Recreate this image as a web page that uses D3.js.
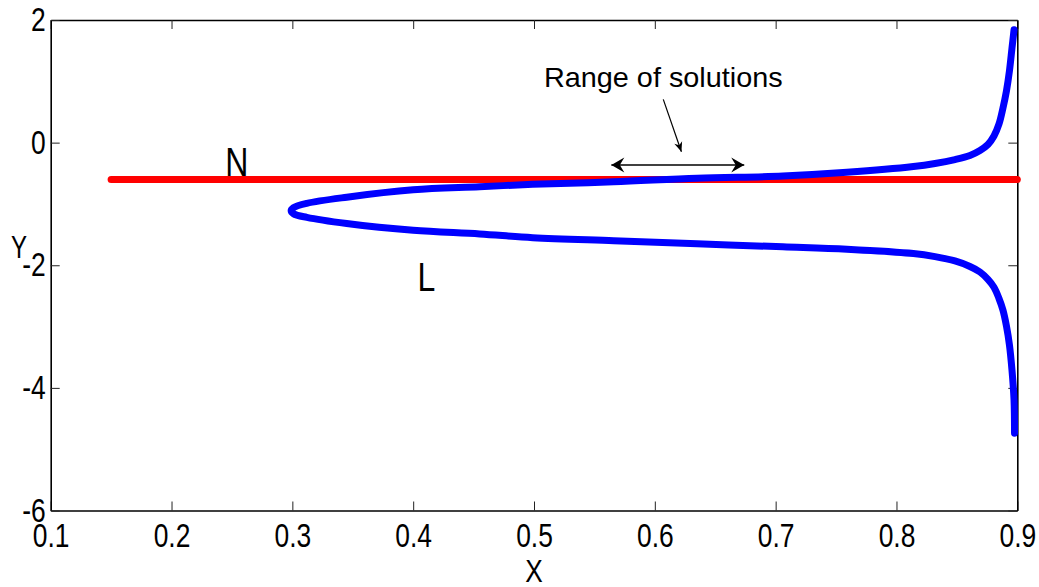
<!DOCTYPE html>
<html><head><meta charset="utf-8">
<script src="https://cdn.jsdelivr.net/npm/d3@7"></script>
<style>body{margin:0;background:#fff} svg{display:block}</style>
</head><body><svg id="chart" width="1039" height="587"></svg>
<script>
// ---- data ----
const xTicks = [0.1, 0.2, 0.3, 0.4, 0.5, 0.6, 0.7, 0.8, 0.9];
const yTicks = [2, 0, -2, -4, -6];
const xTickLabels = ["0.1","0.2","0.3","0.4","0.5","0.6","0.7","0.8","0.9"];
const yTickLabels = ["2","0","-2","-4","-6"];
// curve L (blue), traced from upper tip through the turning point to the lower tip
const curveLX = [0.8973,0.8956,0.8935,0.8910,0.8881,0.8848,0.8807,0.8757,0.8691,0.8608,0.8484,0.8319,0.814,0.759,0.706,0.635,0.566,0.499,0.455,0.400,0.345,0.312,0.301,0.299,
                 0.301,0.312,0.345,0.400,0.455,0.499,0.566,0.635,0.706,0.759,0.814,0.8319,0.8484,0.8608,0.8691,0.8757,0.8807,0.8848,0.8881,0.8910,0.8935,0.8956,0.8973,0.8977];
const curveLY = [1.84,1.54,1.17,0.84,0.56,0.30,0.108,-0.031,-0.129,-0.21,-0.276,-0.34,-0.39,-0.485,-0.545,-0.58,-0.64,-0.68,-0.72,-0.77,-0.89,-0.99,-1.06,-1.11,
                 -1.16,-1.22,-1.32,-1.43,-1.49,-1.55,-1.60,-1.65,-1.70,-1.74,-1.81,-1.86,-1.93,-2.02,-2.11,-2.23,-2.36,-2.54,-2.73,-2.99,-3.30,-3.71,-4.20,-4.74];
// line N (red)
const lineNX = [0.15, 0.9];
const lineNY = [-0.6, -0.6];
// annotations (data coordinates)
const labelN = {text: "N", x: 0.254, y: -0.545};
const labelL = {text: "L", x: 0.411, y: -2.42};
const rangeText = {text: "Range of solutions", x: 0.607, y: 0.905};
const rangeArrow = {x1: 0.564, x2: 0.674, y: -0.365};
const pointerArrow = {x1: 0.607, y1: 0.706, x2: 0.622, y2: -0.148};

// ---- layout ----
const W = 1039, H = 587;
const mLeft = 50.7, mRight = 1017.3, mTop = 20, mBottom = 510.5;
const svg = d3.select("#chart");
const x = d3.scaleLinear().domain([0.1, 0.9]).range([mLeft, mRight]);
const y = d3.scaleLinear().domain([-6, 2]).range([mBottom, mTop]);
const font = "'Liberation Sans', Arial, sans-serif";
const SX = 0.8; // horizontal squeeze of the figure's lettering

const defs = svg.append("defs");
defs.append("marker").attr("id","head").attr("viewBox","-14 -8 16 16")
  .attr("refX",0).attr("refY",0).attr("markerUnits","userSpaceOnUse")
  .attr("markerWidth",16).attr("markerHeight",16).attr("orient","auto-start-reverse")
  .append("path").attr("d","M0,0 L-13,-7.5 L-8.5,0 L-13,7.5 Z").attr("fill","#000");
defs.append("marker").attr("id","head2").attr("viewBox","-14 -8 16 16")
  .attr("refX",0).attr("refY",0).attr("markerUnits","userSpaceOnUse")
  .attr("markerWidth",12).attr("markerHeight",12).attr("orient","auto")
  .append("path").attr("d","M0,0 L-13,-5.5 L-9,0 L-13,5.5 Z").attr("fill","#000");

// axes
function styleAxis(g){
  g.select(".domain").attr("stroke","#000").attr("stroke-width",1.6);
  g.selectAll(".tick line").attr("stroke","#222").attr("stroke-width",1);
  g.attr("font-family", font).attr("font-size", 33);
  g.selectAll(".tick text").attr("fill","#000").attr("transform",`scale(${SX},1)`);
}
svg.append("g").attr("transform",`translate(0,${mBottom})`)
  .call(d3.axisBottom(x).tickValues(xTicks).tickFormat((d,i)=>xTickLabels[i]).tickSizeInner(-9).tickSizeOuter(0).tickPadding(13))
  .call(styleAxis);
svg.append("g").attr("transform",`translate(0,${mTop})`)
  .call(d3.axisTop(x).tickValues(xTicks).tickFormat("").tickSizeInner(-9).tickSizeOuter(0))
  .call(styleAxis);
svg.append("g").attr("transform",`translate(${mLeft},0)`)
  .call(d3.axisLeft(y).tickValues(yTicks).tickFormat((d,i)=>yTickLabels[i]).tickSizeInner(-9).tickSizeOuter(0).tickPadding(5))
  .call(styleAxis)
  .call(g => g.selectAll(".tick text").attr("x", -5 / SX));
svg.append("g").attr("transform",`translate(${mRight},0)`)
  .call(d3.axisRight(y).tickValues(yTicks).tickFormat("").tickSizeInner(-9).tickSizeOuter(0))
  .call(styleAxis);

function squeezedText(px, py, txt, size, sx){
  svg.append("text").attr("transform",`translate(${px},${py}) scale(${sx},1)`)
    .attr("text-anchor","middle").attr("font-family", font).attr("font-size", size)
    .attr("fill","#000").text(txt);
}
// axis titles
squeezedText(x(0.5), 582, "X", 32, 0.82);
squeezedText(19, 258, "Y", 32, 0.75);

// series
const lineN = d3.line().x(d=>x(d[0])).y(d=>y(d[1]));
svg.append("path").datum(lineNX.map((v,i)=>[v,lineNY[i]]))
  .attr("d", lineN).attr("fill","none").attr("stroke","#ff0000")
  .attr("stroke-width",7).attr("stroke-linecap","round");
const lineL = d3.line().x(d=>x(d[0])).y(d=>y(d[1])).curve(d3.curveCatmullRom.alpha(0.5));
svg.append("path").datum(curveLX.map((v,i)=>[v,curveLY[i]]))
  .attr("d", lineL).attr("fill","none").attr("stroke","#0000ff")
  .attr("stroke-width",7).attr("stroke-linecap","round").attr("stroke-linejoin","round");

// annotations
squeezedText(x(labelN.x), y(labelN.y), labelN.text, 40, 0.8);
squeezedText(x(labelL.x), y(labelL.y), labelL.text, 40, 0.8);
squeezedText(x(rangeText.x), y(rangeText.y), rangeText.text, 28, 1.03);
svg.append("line").attr("x1", x(rangeArrow.x1)).attr("x2", x(rangeArrow.x2))
  .attr("y1", y(rangeArrow.y)).attr("y2", y(rangeArrow.y))
  .attr("stroke","#000").attr("stroke-width",1.5)
  .attr("marker-start","url(#head)").attr("marker-end","url(#head)");
svg.append("line").attr("x1", x(pointerArrow.x1)).attr("y1", y(pointerArrow.y1))
  .attr("x2", x(pointerArrow.x2)).attr("y2", y(pointerArrow.y2))
  .attr("stroke","#000").attr("stroke-width",1.2)
  .attr("marker-end","url(#head2)");
</script></body></html>
